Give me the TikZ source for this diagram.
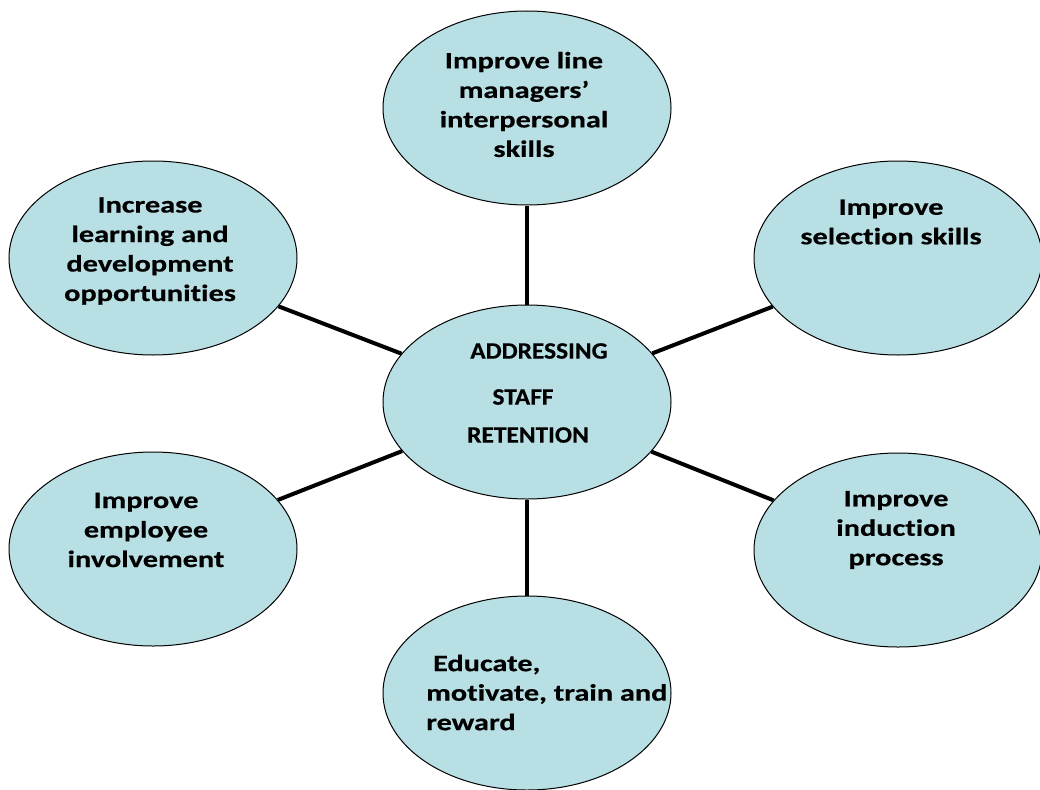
\documentclass[tikz,border=0pt]{standalone}
\usepackage{fontspec}
\setmainfont{Carlito}[FakeStretch=1.29,Ligatures={NoCommon},BoldFeatures={FakeBold=0.5}]
\newfontfamily\ctrfont{Carlito}[FakeStretch=1.08,Ligatures={NoCommon},BoldFeatures={FakeBold=0.5}]
\usetikzlibrary{shapes.geometric}
\definecolor{bubblefill}{RGB}{184,223,228}
\begin{document}
\begin{tikzpicture}[x=1pt,y=-1pt,
  bubble/.style={ellipse,draw=black,line width=1pt,fill=bubblefill,minimum width=288pt,minimum height=194pt,inner sep=0pt},
  txt/.style={inner sep=0pt,font=\fontsize{23.5}{29.5}\selectfont\bfseries,align=center},
  ctxt/.style={inner sep=0pt,font=\ctrfont\fontsize{23.5}{29.5}\selectfont\bfseries},
  spoke/.style={line width=4pt,black}]
\useasboundingbox (0,0) rectangle (1040,789);
\node[bubble] (ctr) at (527,402) {};
\node[bubble] (top) at (527,108) {};
\node[bubble] (ul) at (153,258) {};
\node[bubble] (ur) at (898,258) {};
\node[bubble] (ll) at (153,549) {};
\node[bubble] (lr) at (898,550) {};
\node[bubble] (bot) at (527,693) {};
\draw[spoke] (ctr) -- (top);
\draw[spoke] (ctr) -- (bot);
\draw[spoke] (ctr) -- (ul);
\draw[spoke] (ctr) -- (ur);
\draw[spoke] (ctr) -- (ll);
\draw[spoke] (ctr) -- (lr);
\node[txt] (ttop) at (524,104.5) {Improve line\\managers’\\interpersonal\\skills};
\node[txt] (tul) at (150,251) {Increase\\learning and\\development\\opportunities};
\node[txt] (tur) at (891,222) {Improve\\selection skills};
\node[txt] (tll) at (146,530) {Improve\\employee\\involvement};
\node[txt] (tlr) at (896,530) {Improve\\induction\\process};
\node[txt,align=left,anchor=west] (tbot) at (426,692.5) {\ Educate,\\motivate, train and\\reward};
\node[ctxt] (ca) at (539,351) {ADDRESSING};
\node[ctxt] (cb) at (523,397) {STAFF};
\node[ctxt] (cc) at (528,435) {RETENTION};
\end{tikzpicture}
\end{document}
